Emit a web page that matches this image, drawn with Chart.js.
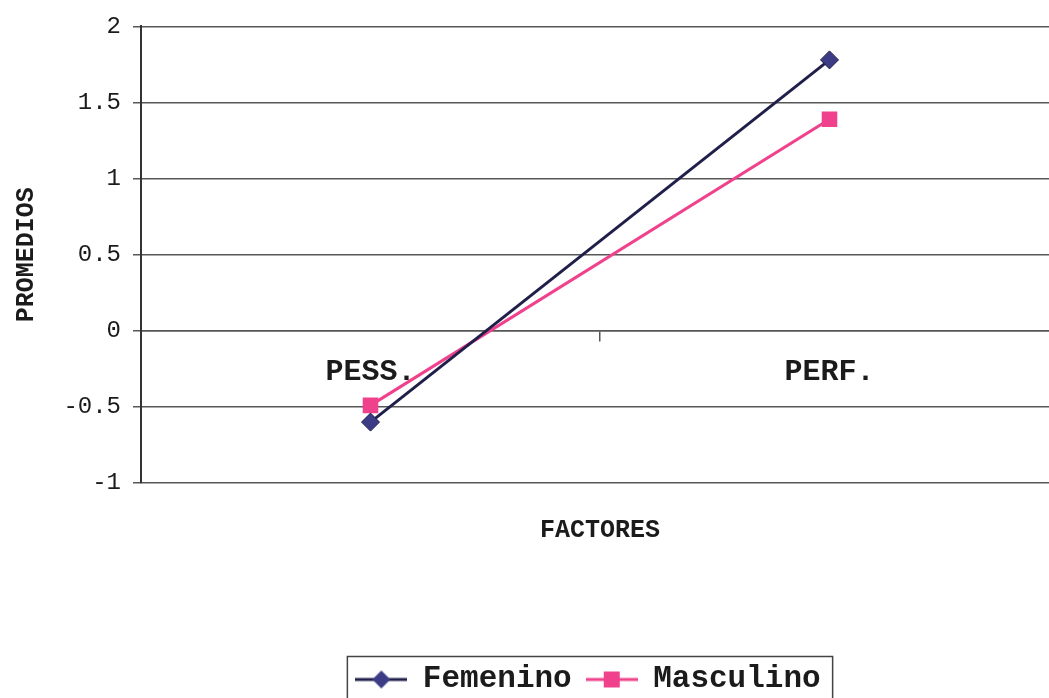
<!DOCTYPE html>
<html>
<head>
<meta charset="utf-8">
<script src="https://cdn.jsdelivr.net/npm/chart.js@4.4.1/dist/chart.umd.min.js"></script>
<style>
  html, body { margin: 0; padding: 0; background: #ffffff; overflow: hidden; }
  #wrap { position: relative; width: 1070px; height: 705px; }
</style>
</head>
<body>
<div id="wrap"><canvas id="chart" width="1070" height="705"></canvas></div>
<script>
// Categories, series and axis ticks
const factores = ['PESS.', 'PERF.'];
const femenino = [-0.6, 1.78];
const masculino = [-0.49, 1.39];
const yTicks = [-1, -0.5, 0, 0.5, 1, 1.5, 2];

const FONT = '"Courier New", "Nimbus Mono PS", "FreeMono", "Liberation Mono", monospace';
const INK = '#1b1b1b';
const GRID = '#575757';
const FEM_LINE = '#1f1f4a';
const FEM_MARK = '#3b3b86';
const MASC = '#f0418c';

// Legend glyphs: a short line with the series marker in the middle
function legendGlyph(lineColor, fill, shape) {
  const c = document.createElement('canvas');
  c.width = 52; c.height = 22;
  const g = c.getContext('2d');
  g.strokeStyle = lineColor; g.lineWidth = 3;
  g.beginPath(); g.moveTo(0, 11); g.lineTo(52, 11); g.stroke();
  g.fillStyle = fill;
  if (shape === 'diamond') {
    g.beginPath();
    g.moveTo(26, 2); g.lineTo(35, 11); g.lineTo(26, 20); g.lineTo(17, 11);
    g.closePath(); g.fill();
  } else {
    g.fillRect(18, 3, 16, 16);
  }
  return c;
}
const glyphs = [legendGlyph(FEM_LINE, FEM_MARK, 'diamond'), legendGlyph(MASC, MASC, 'square')];

const LEGEND_SHIFT = -12;

// Frame around the legend row and a small horizontal nudge of the legend
const legendFrame = {
  id: 'legendFrame',
  afterLayout(chart) {
    const lg = chart.legend;
    lg.left += LEGEND_SHIFT; lg.right += LEGEND_SHIFT;
  },
  afterDraw(chart) {
    const lg = chart.legend;
    if (!lg || !lg.lineWidths) return;
    const pad = lg.options.labels.padding;
    const start = (lg.left + pad + lg.right - lg.lineWidths[0]) / 2;
    const end = start + lg.lineWidths[0] - pad;
    const fs = lg.options.labels.font.size;
    const cy = lg.top + pad + fs / 2;
    const ctx = chart.ctx;
    ctx.save();
    ctx.strokeStyle = '#444';
    ctx.lineWidth = 1.5;
    ctx.strokeRect(start - 8, cy - 23, (end - start) + 20, 80);
    ctx.restore();
  }
};

new Chart(document.getElementById('chart'), {
  type: 'line',
  data: {
    labels: factores,
    datasets: [
      {
        label: 'Femenino',
        data: femenino,
        borderColor: FEM_LINE,
        backgroundColor: FEM_MARK,
        borderWidth: 3,
        pointStyle: 'rectRot',
        pointRadius: 9,
        pointBorderWidth: 1,
        pointBorderColor: FEM_LINE,
        pointBackgroundColor: FEM_MARK,
        tension: 0
      },
      {
        label: 'Masculino',
        data: masculino,
        borderColor: MASC,
        backgroundColor: MASC,
        borderWidth: 3,
        pointStyle: 'rect',
        pointRadius: 11,
        pointBorderWidth: 0,
        pointBackgroundColor: MASC,
        tension: 0
      }
    ]
  },
  options: {
    responsive: false,
    animation: false,
    layout: { padding: { left: 0, right: 11, top: 25, bottom: 0 } },
    scales: {
      x: {
        type: 'category',
        offset: true,
        position: { y: 0 },
        grid: { display: true, offset: true, drawOnChartArea: false, drawTicks: true, tickLength: 10, color: GRID, lineWidth: 1.5 },
        border: { display: true, color: GRID, width: 1.5 },
        ticks: { font: { family: FONT, size: 30, weight: 'bold' }, color: INK, padding: 14, maxRotation: 0 }
      },
      y: {
        min: -1,
        max: 2,
        afterBuildTicks: (s) => { s.ticks = yTicks.map(v => ({ value: v })); },
        afterFit: (s) => { s.width = 141; },
        grid: { color: GRID, lineWidth: 1.5, tickLength: 8 },
        border: { display: true, color: '#333', width: 2 },
        ticks: {
          font: { family: FONT, size: 24 },
          color: INK,
          padding: 12,
          callback: (v) => String(v)
        },
        title: {
          display: true,
          text: 'PROMEDIOS',
          font: { family: FONT, size: 25, weight: 'bold' },
          color: INK,
          padding: { top: 12, bottom: 0 }
        }
      }
    },
    plugins: {
      tooltip: { enabled: false },
      title: {
        display: true,
        position: 'bottom',
        text: 'FACTORES',
        weight: 500,
        fullSize: false,
        font: { family: FONT, size: 25, weight: 'bold' },
        color: INK,
        padding: { top: 33, bottom: 104 }
      },
      legend: {
        position: 'bottom',
        fullSize: false,
        labels: {
          font: { family: FONT, size: 31, weight: 'bold' },
          color: INK,
          usePointStyle: true,
          pointStyleWidth: 52,
          padding: 14,
          generateLabels(chart) {
            const items = Chart.defaults.plugins.legend.labels.generateLabels(chart);
            items.forEach((it, i) => { it.pointStyle = glyphs[i]; });
            return items;
          }
        }
      }
    }
  },
  plugins: [legendFrame]
});
</script>
</body>
</html>
